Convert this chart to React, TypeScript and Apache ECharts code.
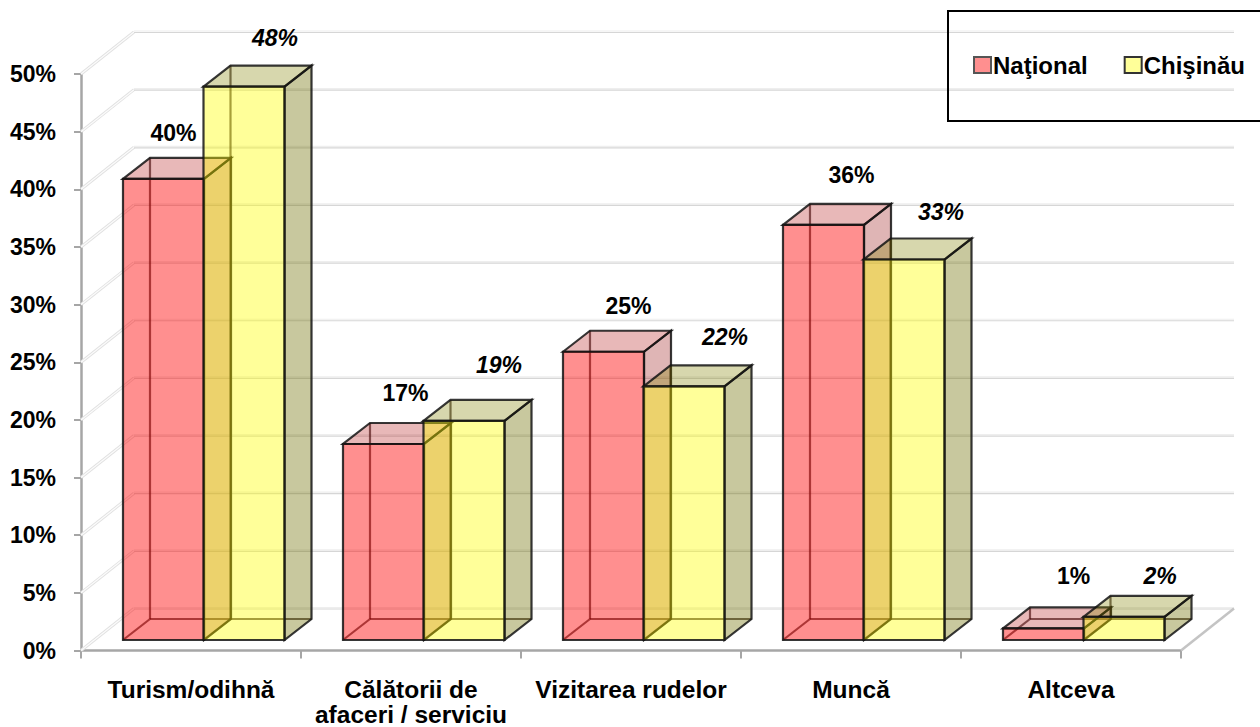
import React, { useEffect, useRef } from "react";
import * as echarts from "echarts";

const categories = ["Turism/odihnă", "Călătorii de\nafaceri / serviciu", "Vizitarea rudelor", "Muncă", "Altceva"];
const national = [40, 17, 25, 36, 1];
const chisinau = [48, 19, 22, 33, 2];
const yTicks = [0, 5, 10, 15, 20, 25, 30, 35, 40, 45, 50];
// label nudges relative to the bar's front-top centre
const nationalLabelOffset = [[10, -46], [22, -51], [25, -46], [28, -50], [30, -52]];
const chisinauLabelOffset = [[31, -49], [35, -56], [41, -49], [37, -48], [36, -41]];

const W = 1260, H = 727;
const AX_L = 81, AX_R = 1181, AX_T = 74, AX_B = 650.5;
const WALL_DX = 53, WALL_DY = -42;
const BAR_DX = 27, BAR_DY = -21;
const FLOOR_GAP_Y = -10.5;
const BAR_W = 81;
const FIRST_BAR = 42;

const FONT = '"Liberation Sans", Arial, sans-serif';
const EDGE = "rgba(20,20,20,0.85)";

const wallItem = (params: any, api: any) => {
  const v = api.value(0);
  const [, y] = api.coord([0, v]);
  const left = AX_L;
  const ch: any[] = [];
  const p1 = [left, y], p2 = [left + WALL_DX, y + WALL_DY];
  const xEnd = AX_R + WALL_DX;
  ch.push({ type: "line", shape: { x1: p1[0], y1: p1[1], x2: p2[0], y2: p2[1] }, style: { stroke: "#e0e0e0", lineWidth: 3 } });
  ch.push({ type: "line", shape: { x1: p1[0], y1: p1[1], x2: p2[0], y2: p2[1] }, style: { stroke: "#fbfbfb", lineWidth: 1.3 } });
  ch.push({ type: "line", shape: { x1: p2[0], y1: p2[1] - 1, x2: xEnd, y2: p2[1] - 1 }, style: { stroke: "#eeeeee", lineWidth: 1.2 } });
  ch.push({ type: "line", shape: { x1: p2[0], y1: p2[1] + 0.5, x2: xEnd, y2: p2[1] + 0.5 }, style: { stroke: "#d6d6d6", lineWidth: 1.2 } });
  if (v === 0) {
    ch.push({ type: "line", shape: { x1: AX_R, y1: y, x2: xEnd, y2: y + WALL_DY }, style: { stroke: "#c4c4c4", lineWidth: 2.5 } });
  }
  return { type: "group", children: ch };
};

const makeBarItem = (slot: number, front: string, top: string, side: string, labelOffsets: number[][], italic: boolean) =>
  (params: any, api: any) => {
    const idx = api.value(0);
    const val = api.value(1);
    const [cx, yTop] = api.coord([idx, val]);
    const [, yBase] = api.coord([idx, 0]);
    const band = api.size([1, 0])[0];
    const l = cx - band / 2 + FIRST_BAR + slot * BAR_W - 0.5 * slot;
    const r = l + BAR_W;
    const t = yTop + FLOOR_GAP_Y;
    const b = yBase + FLOOR_GAP_Y;
    const dx = BAR_DX, dy = BAR_DY;
    const backEdge = { stroke: "rgba(30,10,10,0.65)", lineWidth: 2.2 };
    const off = labelOffsets[idx];
    return {
      type: "group",
      children: [
        { type: "polyline", shape: { points: [[l + dx, b + dy], [l + dx, t + dy]] }, style: backEdge },
        { type: "polyline", shape: { points: [[l + dx, b + dy], [r + dx, b + dy]] }, style: backEdge },
        { type: "polyline", shape: { points: [[l, b], [l + dx, b + dy]] }, style: backEdge },
        { type: "polygon", shape: { points: [[r, t], [r + dx, t + dy], [r + dx, b + dy], [r, b]] }, style: { fill: side, stroke: EDGE, lineWidth: 2.2 } },
        { type: "polygon", shape: { points: [[l, t], [l + dx, t + dy], [r + dx, t + dy], [r, t]] }, style: { fill: top, stroke: EDGE, lineWidth: 2.2 } },
        { type: "polygon", shape: { points: [[l, t], [r, t], [r, b], [l, b]] }, style: { fill: front, stroke: EDGE, lineWidth: 2.2 } },
        {
          type: "text",
          style: {
            x: (l + r) / 2 + off[0], y: t + off[1],
            text: val + "%",
            fill: "#000",
            font: `${italic ? "italic " : ""}bold 23px ${FONT}`,
            textAlign: "center", textVerticalAlign: "middle",
          },
        },
      ],
    };
  };

export default function App() {
  const ref = useRef<HTMLDivElement>(null);
  useEffect(() => {
    const chart = echarts.init(ref.current!, undefined, { renderer: "svg" });
    chart.setOption({
      animation: false,
      backgroundColor: "#fff",
      grid: { left: AX_L, right: W - AX_R, top: AX_T, bottom: H - AX_B, outerBoundsMode: "none" },
      legend: {
        left: 968, top: 48, itemGap: 36, itemWidth: 17, itemHeight: 16, selectedMode: false, z: 20,
        textStyle: { fontFamily: FONT, fontWeight: "bold", fontSize: 24, color: "#000", padding: [0, 0, 0, -3] },
        data: [
          { name: "Naţional", icon: "rect", itemStyle: { color: "#ff8f8f", borderColor: "#555", borderWidth: 2 } },
          { name: "Chişinău", icon: "rect", itemStyle: { color: "#ffff99", borderColor: "#333", borderWidth: 2 } },
        ],
      },
      xAxis: {
        type: "category", data: categories, boundaryGap: true,
        axisLine: { show: true, lineStyle: { color: "#a6a6a6", width: 2.5 } },
        axisTick: { show: true, alignWithLabel: false, length: 8, lineStyle: { color: "#a6a6a6", width: 2 } },
        axisLabel: { interval: 0, margin: 26, color: "#000", fontFamily: FONT, fontWeight: "bold", fontSize: 24.5, lineHeight: 25 },
      },
      yAxis: {
        type: "value", min: 0, max: 50, interval: 5,
        axisLine: { show: true, lineStyle: { color: "#a6a6a6", width: 2.5 } },
        axisTick: { show: true, length: 7, lineStyle: { color: "#a6a6a6", width: 2 } },
        splitLine: { show: false },
        axisLabel: { margin: 25, formatter: "{value}%", color: "#000", fontFamily: FONT, fontWeight: "bold", fontSize: 23 },
      },
      graphic: [
        { type: "rect", z: 15, shape: { x: 948, y: 11, width: 330, height: 110 }, style: { fill: "rgba(255,255,255,0)", stroke: "#000", lineWidth: 2 }, silent: true },
      ],
      series: [
        { type: "custom", name: "wall", clip: false, silent: true, z: 1, data: yTicks.map((v) => [v]), encode: { y: 0 }, renderItem: wallItem },
        {
          type: "custom", name: "Naţional", clip: false, z: 3, data: national.map((v, i) => [i, v]), encode: { x: 0, y: 1 },
          itemStyle: { color: "#ff8f8f" },
          renderItem: makeBarItem(0, "rgba(255,0,0,0.44)", "rgba(180,20,20,0.3)", "rgba(150,10,10,0.3)", nationalLabelOffset, false),
        },
        {
          type: "custom", name: "Chişinău", clip: false, z: 4, data: chisinau.map((v, i) => [i, v]), encode: { x: 0, y: 1 },
          itemStyle: { color: "#ffff99" },
          renderItem: makeBarItem(1, "rgba(255,255,0,0.4)", "rgba(130,130,0,0.32)", "rgba(110,110,0,0.38)", chisinauLabelOffset, true),
        },
      ],
    });
    return () => chart.dispose();
  }, []);
  return <div ref={ref} style={{ position: "fixed", left: 0, top: 0, width: W, height: H }} />;
}
